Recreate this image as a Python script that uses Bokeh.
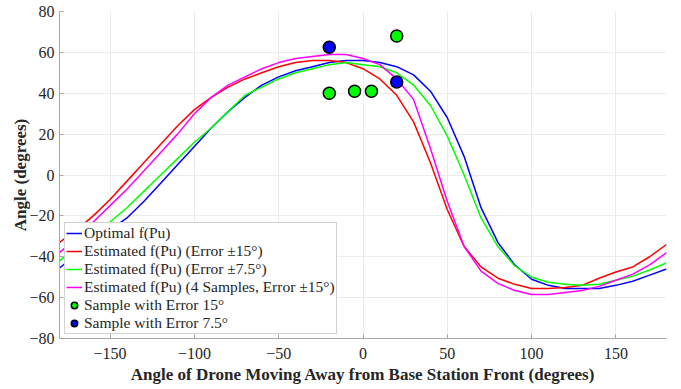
from bokeh.plotting import figure
from bokeh.embed import file_html
from bokeh.resources import INLINE
from bokeh.models import Legend, LegendItem, FixedTicker, Range1d

angles = list(range(-180, 181, 10))

optimal = [-45.5, -39, -33, -27, -21, -13, -4, 5, 14, 23, 31, 38, 44, 48, 51, 53, 55, 56,
           56, 55, 53, 49, 41, 28, 9, -16, -33, -44, -51, -54, -55.5, -55.5, -55.5, -54, -52, -49, -46]
est_15 = [-33, -27, -20, -12, -3, 6, 15, 24, 32, 38, 43, 47, 50, 53, 55, 56, 56, 55,
          52, 47, 39, 26, 6, -17, -35, -45, -50.5, -53.5, -55.5, -55.5, -55, -54, -50.5, -47.5, -45, -40, -34]
est_7_5 = [-42, -35, -29, -23, -16, -8, 0, 8, 16, 23, 31, 39, 43, 47, 50, 52, 54, 55,
           54, 53, 50, 44, 34, 19, 0, -21, -35, -44.5, -50, -52.5, -53.5, -54, -53.5, -51.5, -49.5, -46.5, -43]
est_4s = [-38, -31, -23, -15, -7, 2, 11, 20, 30, 38, 44, 48, 52, 55, 57, 58, 59, 59,
          57, 54, 47, 37, 13, -13, -35, -47, -53, -56.5, -58.5, -58.5, -57.5, -56.5, -54.5, -51.5, -48.5, -44, -38]

samp15_x = [-20, -5, 5, 20]
samp15_y = [40, 41, 41, 68]
samp75_x = [-20, 20]
samp75_y = [62.5, 45.5]

x_ticks = [-150, -100, -50, 0, 50, 100, 150]
y_ticks = [-80, -60, -40, -20, 0, 20, 40, 60, 80]

SERIF = "Liberation Serif"
TXT = "#262626"

p = figure(width=673, height=388, output_backend="svg", toolbar_location=None,
           x_range=Range1d(-180, 180), y_range=Range1d(-80, 80),
           min_border_left=59, min_border_right=7, min_border_top=11, min_border_bottom=50)
p.outline_line_color = None

for ax in (p.xaxis, p.yaxis):
    ax.axis_line_color = "#a6a6a6"
    ax.major_tick_line_color = "#a6a6a6"
    ax.major_tick_in = 4
    ax.major_tick_out = 0
    ax.minor_tick_line_color = None
    ax.major_label_text_font = SERIF
    ax.major_label_text_font_size = "16px"
    ax.major_label_text_color = TXT
    ax.axis_label_text_font = SERIF
    ax.axis_label_text_font_style = "bold"
    ax.axis_label_text_font_size = "17px"
    ax.axis_label_text_color = TXT

p.xaxis.ticker = FixedTicker(ticks=x_ticks)
p.yaxis.ticker = FixedTicker(ticks=y_ticks)
p.xaxis.axis_label = "Angle of Drone Moving Away from Base Station Front (degrees)"
p.yaxis.axis_label = "Angle (degrees)"
p.xaxis.major_label_standoff = 9
p.yaxis.major_label_standoff = 5
p.xaxis.axis_label_standoff = 3
p.yaxis.axis_label_standoff = -4

p.grid.grid_line_color = "#ebebeb"
p.grid.grid_line_width = 1

r_opt = p.line(angles, optimal, line_color="#0000ff", line_width=1.5)
r_15 = p.line(angles, est_15, line_color="#ff0000", line_width=1.5)
r_75 = p.line(angles, est_7_5, line_color="#00ff00", line_width=1.5)
r_4s = p.line(angles, est_4s, line_color="#ff00ff", line_width=1.5)
r_s15 = p.scatter(samp15_x, samp15_y, marker="circle", size=12, fill_color="#00ff00",
                  line_color="#000000", line_width=1.5)
r_s75 = p.scatter(samp75_x, samp75_y, marker="circle", size=12, fill_color="#0000ff",
                  line_color="#000000", line_width=1.5)

legend = Legend(items=[
    LegendItem(label="Optimal f(Pu)", renderers=[r_opt]),
    LegendItem(label="Estimated f(Pu) (Error \u00b115\u00b0)", renderers=[r_15]),
    LegendItem(label="Estimated f(Pu) (Error \u00b17.5\u00b0)", renderers=[r_75]),
    LegendItem(label="Estimated f(Pu) (4 Samples, Error \u00b115\u00b0)", renderers=[r_4s]),
    LegendItem(label="Sample with Error 15\u00b0", renderers=[r_s15]),
    LegendItem(label="Sample with Error 7.5\u00b0", renderers=[r_s75]),
], location=(5, 4))
legend.margin = 0
legend.padding = 1
legend.spacing = 0
legend.glyph_width = 16
legend.glyph_height = 18
legend.label_height = 18
legend.label_standoff = 2
legend.label_text_font = SERIF
legend.label_text_font_size = "15.5px"
legend.label_text_color = TXT
legend.border_line_color = "#a6a6a6"
legend.border_line_width = 1
legend.background_fill_color = "white"
legend.background_fill_alpha = 1.0
p.add_layout(legend, "center")

open("out.html", "w").write(file_html(p, INLINE))
